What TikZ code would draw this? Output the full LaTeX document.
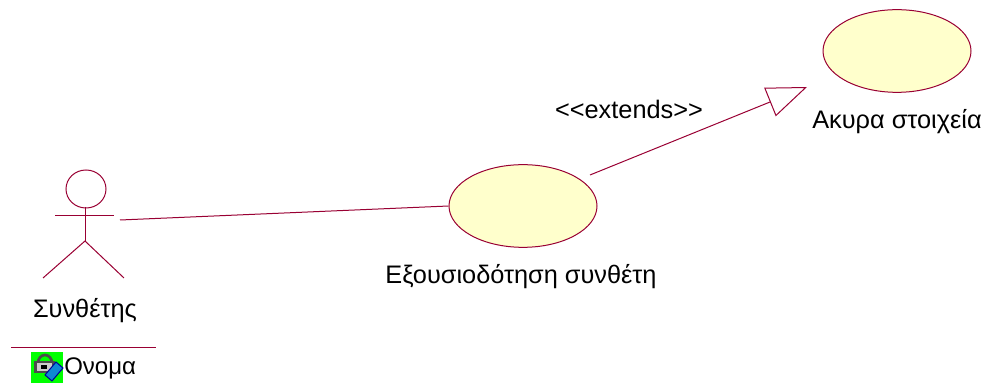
\documentclass[tikz,border=0pt]{standalone}
\usepackage{fontspec}
\setmainfont{Liberation Sans}
\usetikzlibrary{arrows.meta, shapes.geometric}
\definecolor{umlred}{HTML}{990033}
\definecolor{umlfill}{HTML}{FFFFCC}
\tikzset{
    usecase/.style={draw=umlred, fill=umlfill, ellipse, line width=0.75pt, minimum width=111pt, minimum height=62pt, inner sep=0pt},
    umlline/.style={draw=umlred, line width=0.75pt},
    umltext/.style={font=\fontsize{19}{22}\selectfont, inner sep=0pt, anchor=base},
}
\begin{document}
\begin{tikzpicture}[x=0.75pt, y=-0.75pt]
        \useasboundingbox (0, 0) rectangle (986, 391);

        % ===== Use cases =====
        \node[usecase] (authcase) at (523, 206) {};
        \node[usecase] (voidcase) at (897, 51) {};
        \node[umltext] (authlabel) at (521, 284) {Εξουσιοδότηση συνθέτη};
        \node[umltext] (voidlabel) at (897, 129) {Ακυρα στοιχεία};

        % ===== Actor =====
        \draw[umlline] (86, 189) ellipse (20 and 19);
        \draw[umlline] (55, 216) -- (114, 216);
        \draw[umlline] (85, 207) -- (85, 241);
        \draw[umlline] (43, 278) -- (85, 241) -- (124, 278);
        \node[umltext] (actorlabel) at (85, 318) {Συνθέτης};

        % ===== Connectors =====
        \coordinate (actorhand) at (120, 220);
        \coordinate (extstart) at (590, 175);
        \coordinate (exttip) at (807, 87);
        \draw[umlline] (actorhand) -- (authcase.west);
        \draw[umlline, -{Triangle[open, length=30pt, width=23pt]}] (extstart) -- (exttip);
        \node[umltext] (extlabel) at (629, 119) {<{}<extends>{}>};

        % ===== Attribute =====
        \draw[umlline] (11, 348) -- (156, 348);
        \fill[green] (31, 352) rectangle (63, 383);
        \draw[gray!60!black, line width=2pt] (38, 363) arc (180:360:7 and 8);
        \fill[gray!60!black] (34, 361) rectangle (55, 373);
        \fill[gray!40] (37, 363) rectangle (52, 371);
        \fill[black] (41, 365) rectangle (47, 369);
        \fill[cyan!70!blue, draw=blue!60!black, line width=0.75pt] (45, 375) -- (56, 362) -- (63, 368) -- (52, 381) -- cycle;
        \node[umltext, anchor=base west, font=\fontsize{18}{22}\selectfont] (attrlabel) at (64, 375) {Ονομα};
    \end{tikzpicture}
\end{document}
